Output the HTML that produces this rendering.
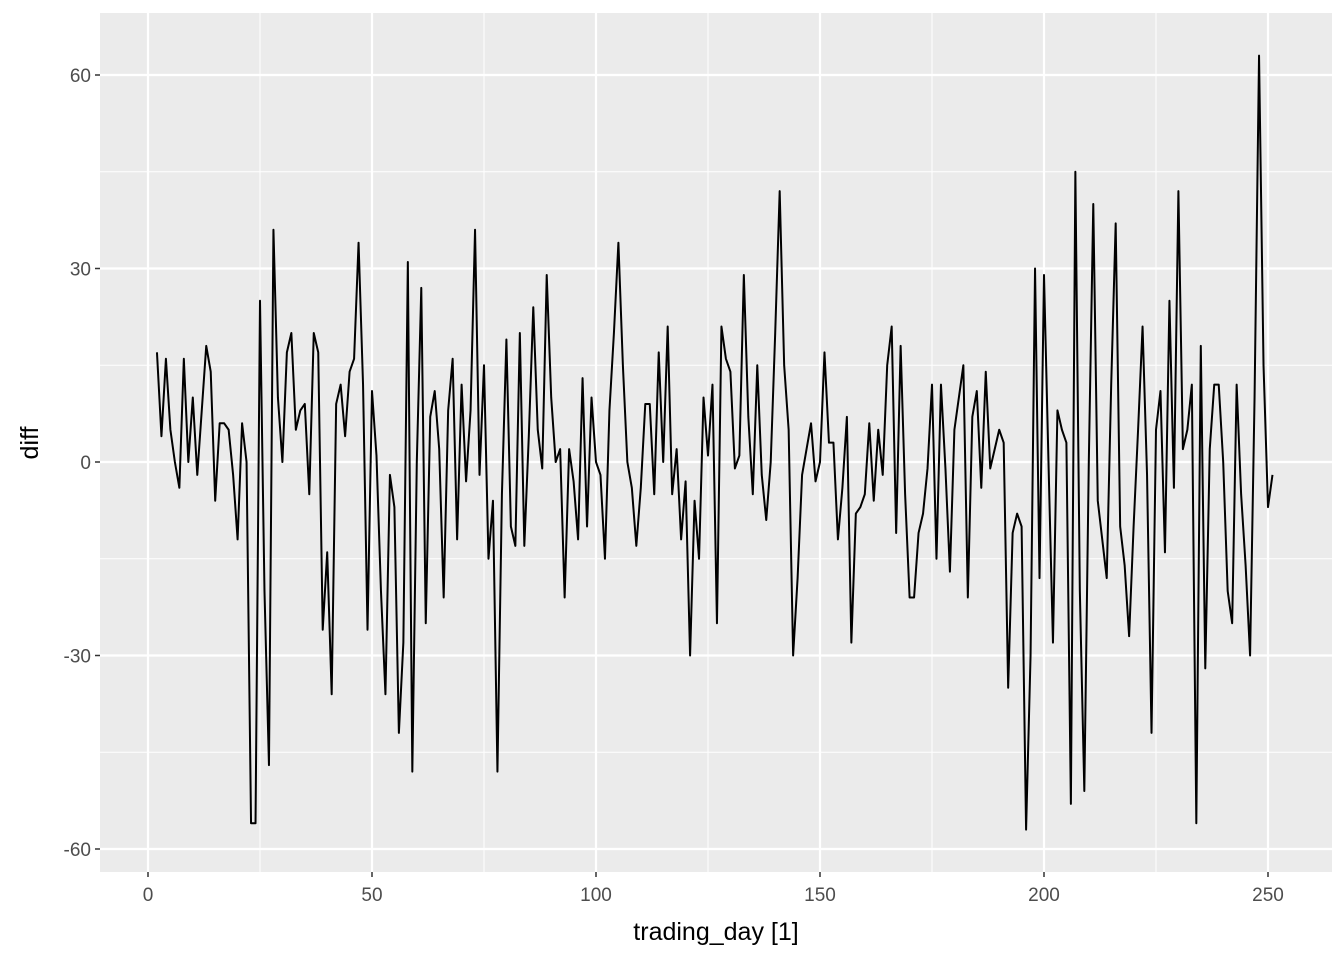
<!DOCTYPE html>
<html><head><meta charset="utf-8"><style>
body{margin:0;background:#fff;font-family:"Liberation Sans",Arial,sans-serif}
svg{display:block}
</style></head><body>
<svg id="chart" width="1344" height="960"></svg>
<script>
const values=[17,4,16,5,0,-4,16,0,10,-2,8,18,14,-6,6,6,5,-2,-12,6,0,-56,-56,25,-20,-47,36,10,0,17,20,5,8,9,-5,20,17,-26,-14,-36,9,12,4,14,16,34,12,-26,11,1,-20,-36,-2,-7,-42,-28,31,-48,0,27,-25,7,11,2,-21,8,16,-12,12,-3,8,36,-2,15,-15,-6,-48,-5,19,-10,-13,20,-13,4,24,5,-1,29,10,0,2,-21,2,-3,-12,13,-10,10,0,-2,-15,8,20,34,15,0,-4,-13,-4,9,9,-5,17,0,21,-5,2,-12,-3,-30,-6,-15,10,1,12,-25,21,16,14,-1,1,29,7,-5,15,-2,-9,0,20,42,15,5,-30,-18,-2,2,6,-3,0,17,3,3,-12,-4,7,-28,-8,-7,-5,6,-6,5,-2,15,21,-11,18,-5,-21,-21,-11,-8,-1,12,-15,12,-1,-17,5,10,15,-21,7,11,-4,14,-1,2,5,3,-35,-11,-8,-10,-57,-30,30,-18,29,0,-28,8,5,3,-53,45,-20,-51,0,40,-6,-12,-18,12,37,-10,-16,-27,-10,5,21,-2,-42,5,11,-14,25,-4,42,2,5,12,-56,18,-32,2,12,12,0,-20,-25,12,-5,-16,-30,10,63,15,-7,-2];
const startDay=2;
const xTicks=[0,50,100,150,200,250];
const yTicks=[-60,-30,0,30,60];
const NS="http://www.w3.org/2000/svg";
const svg=document.getElementById('chart');
const L=100,R=1332,T=13,B=872;
const xs=d=>148+d*4.48;
const ys=v=>462-v*6.45;
function el(t,a,p){const e=document.createElementNS(NS,t);for(const k in a)e.setAttribute(k,a[k]);(p||svg).appendChild(e);return e;}
const panel=el('rect',{x:L,y:T,width:R-L,height:B-T,fill:'#ebebeb'});


for(let i=0;i<yTicks.length-1;i++){const v=(yTicks[i]+yTicks[i+1])/2;const g=el('line',{x1:L,x2:R,y1:ys(v),y2:ys(v),stroke:'#fff','stroke-width':1});

}
for(let i=0;i<xTicks.length;i++){const v=xTicks[i]+25;if(xs(v)<R){const g=el('line',{y1:T,y2:B,x1:xs(v),x2:xs(v),stroke:'#fff','stroke-width':1});

}}
yTicks.forEach(v=>{const g=el('line',{x1:L,x2:R,y1:ys(v),y2:ys(v),stroke:'#fff','stroke-width':2.2});


el('line',{x1:L-5,x2:L,y1:ys(v),y2:ys(v),stroke:'#333','stroke-width':1.5});
const t=el('text',{x:L-9,y:ys(v)+7,'text-anchor':'end','font-size':19,fill:'#4d4d4d'});t.textContent=v;

});
xTicks.forEach(v=>{const g=el('line',{y1:T,y2:B,x1:xs(v),x2:xs(v),stroke:'#fff','stroke-width':2.2});


el('line',{y1:B,y2:B+5,x1:xs(v),x2:xs(v),stroke:'#333','stroke-width':1.5});
const t=el('text',{x:xs(v),y:B+29,'text-anchor':'middle','font-size':19,fill:'#4d4d4d'});t.textContent=v;

});
const pts=values.map((v,i)=>xs(startDay+i).toFixed(2)+','+ys(v).toFixed(2)).join(' ');
const line=el('polyline',{points:pts,fill:'none',stroke:'#000','stroke-width':2,'stroke-linejoin':'round'});


const xt=el('text',{x:(L+R)/2,y:940,'text-anchor':'middle','font-size':25,fill:'#000'});xt.textContent='trading_day [1]';


const yt=el('text',{x:0,y:0,'text-anchor':'middle','font-size':25,fill:'#000',transform:'translate(38,443) rotate(-90)'});yt.textContent='diff';


</script>
</body></html>
